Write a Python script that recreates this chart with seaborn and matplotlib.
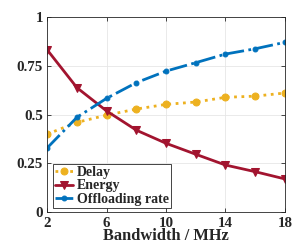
import matplotlib
matplotlib.use("Agg")
import matplotlib.pyplot as plt
import seaborn as sns
import pandas as pd

bandwidth = [2, 4, 6, 8, 10, 12, 14, 16, 18]
delay = [0.40, 0.46, 0.497, 0.528, 0.552, 0.564, 0.588, 0.594, 0.61]
energy = [0.83, 0.637, 0.518, 0.42, 0.353, 0.297, 0.242, 0.208, 0.171]
offloading = [0.33, 0.486, 0.583, 0.663, 0.722, 0.765, 0.809, 0.836, 0.869]
series_names = ["Delay", "Energy", "Offloading rate"]
x_ticks = [2, 6, 10, 14, 18]
y_ticks = [0, 0.25, 0.5, 0.75, 1]
y_tick_labels = ["0", "0.25", "0.5", "0.75", "1"]

sns.set_theme(style="whitegrid")
plt.rcParams["font.family"] = ["Liberation Serif", "DejaVu Serif"]
plt.rcParams["font.weight"] = "bold"

df = pd.DataFrame({
    "bw": bandwidth * 3,
    "val": delay + energy + offloading,
    "series": [series_names[0]] * 9 + [series_names[1]] * 9 + [series_names[2]] * 9,
})

fig = plt.figure(figsize=(3.05, 2.49), dpi=100)
ax = fig.add_axes([0.155, 0.147, 0.779, 0.786])

styles = {
    "Delay": dict(color="#EDB120", ls=":", marker="o", ms=5),
    "Energy": dict(color="#A2142F", ls="-", marker="v", ms=6),
    "Offloading rate": dict(color="#0072BD", ls="-.", marker="o", ms=3.5),
}
for name in series_names:
    sub = df[df["series"] == name]
    st = styles[name]
    sns.lineplot(data=sub, x="bw", y="val", ax=ax, color=st["color"],
                 linestyle=st["ls"], marker=st["marker"], markersize=st["ms"],
                 markeredgecolor=st["color"], linewidth=2, label=name)

ax.set_xlim(2, 18)
ax.set_ylim(0, 1)
ax.set_xticks(x_ticks)
ax.set_yticks(y_ticks)
ax.set_yticklabels(y_tick_labels)
ax.tick_params(axis="both", labelsize=10.8, direction="in", length=3, width=0.6,
               color="#262626", pad=3, left=True, bottom=True, right=True, top=True)
for lab in ax.get_xticklabels() + ax.get_yticklabels():
    lab.set_fontweight("bold")
    lab.set_color("#262626")
ax.set_xlabel("Bandwidth / MHz", fontsize=11.8, fontweight="bold", color="#262626", labelpad=-1)
ax.set_ylabel("")
ax.grid(True, color="#E6E6E6", linewidth=0.6)
for sp in ax.spines.values():
    sp.set_color("#262626")
    sp.set_linewidth(0.6)

leg = ax.legend(loc="lower left", bbox_to_anchor=(0.005, 0.0), fontsize=10,
                frameon=True, fancybox=False, borderpad=0.15, labelspacing=0.05,
                handlelength=1.3, handletextpad=0.3, borderaxespad=0.3)
leg.get_frame().set_edgecolor("#262626")
leg.get_frame().set_linewidth(0.6)
leg.get_frame().set_alpha(1)
for t in leg.get_texts():
    t.set_fontweight("bold")

fig.savefig("out.png", dpi=100)
